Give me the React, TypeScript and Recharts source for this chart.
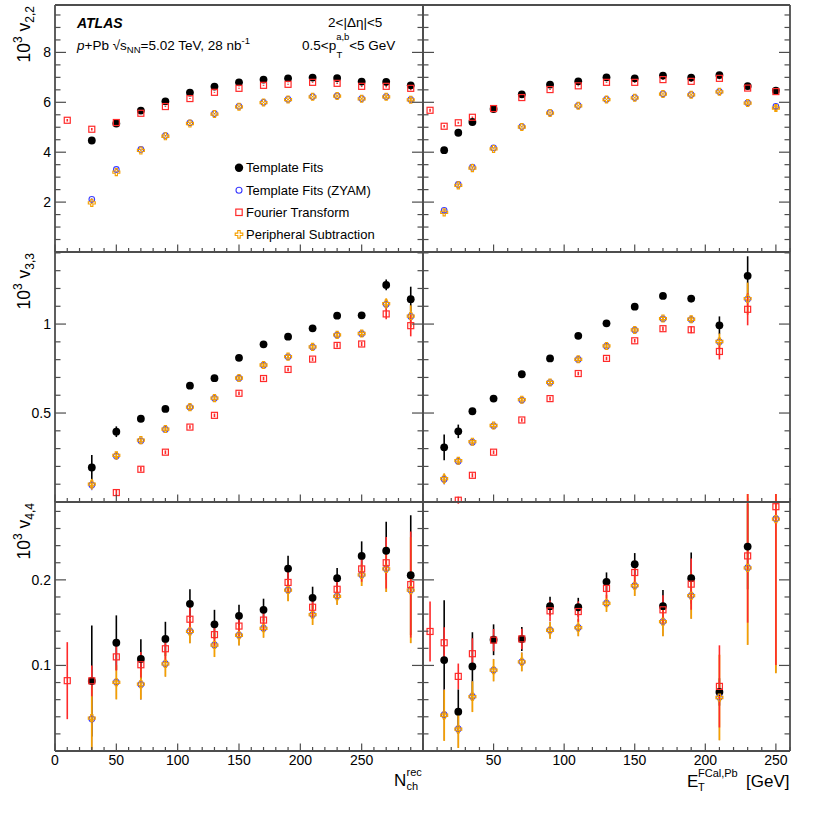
import React from "react";
import { ScatterChart, Scatter, XAxis, YAxis, ErrorBar, Label } from "recharts";

const FONT = "'Liberation Sans', Arial, Helvetica, sans-serif";
const FRAME = "#4d4d4d";
const BLUE = "#3c3cff";
const RED = "#ff2a2a";
const ORANGE = "#f5a000";

// bin centres
const nchX = [10, 30, 50, 70, 90, 110, 130, 150, 170, 190, 210, 230, 250, 270, 290];
const etX = [5, 15, 25, 35, 50, 70, 90, 110, 130, 150, 170, 190, 210, 230, 250];

// ---- v2,2 vs Nch
const tf22N = [null, 4.47, 5.15, 5.67, 6.04, 6.39, 6.63, 6.8, 6.91, 6.96, 6.99, 6.97, 6.83, 6.82, 6.68];
const zy22N = [null, 2.11, 3.31, 4.11, 4.67, 5.18, 5.55, 5.84, 6.0, 6.12, 6.23, 6.26, 6.15, 6.23, 6.11];
const ft22N = [5.28, 4.92, 5.19, 5.56, 5.83, 6.15, 6.4, 6.56, 6.68, 6.72, 6.8, 6.76, 6.64, 6.64, 6.56];
const ps22N = [null, 1.97, 3.2, 4.07, 4.64, 5.15, 5.53, 5.82, 5.99, 6.11, 6.22, 6.25, 6.14, 6.22, 6.1];
const err22N = [0.05, 0.05, 0.03, 0.02, 0.02, 0.02, 0.02, 0.02, 0.02, 0.02, 0.02, 0.03, 0.03, 0.05, 0.08];

// ---- v2,2 vs ET
const tf22E = [null, 4.08, 4.78, 5.21, 5.73, 6.32, 6.71, 6.84, 7.0, 6.96, 7.07, 6.99, 7.09, 6.65, 6.47];
const zy22E = [null, 1.67, 2.71, 3.4, 4.17, 5.03, 5.59, 5.87, 6.12, 6.19, 6.34, 6.31, 6.43, 5.98, 5.84];
const ft22E = [5.68, 5.04, 5.18, 5.4, 5.75, 6.19, 6.51, 6.66, 6.8, 6.8, 6.91, 6.84, 6.96, 6.57, 6.43];
const ps22E = [null, 1.59, 2.67, 3.36, 4.13, 5.01, 5.57, 5.86, 6.11, 6.18, 6.33, 6.3, 6.42, 5.97, 5.77];
const err22E = [0.06, 0.05, 0.04, 0.03, 0.02, 0.02, 0.02, 0.02, 0.02, 0.02, 0.02, 0.03, 0.04, 0.06, 0.12];

// ---- v3,3 vs Nch
const tf33N = [null, 0.194, 0.395, 0.468, 0.523, 0.654, 0.696, 0.81, 0.886, 0.929, 0.976, 1.047, 1.049, 1.22, 1.14];
const tf33Ne = [0, 0.07, 0.03, 0.015, 0.012, 0.01, 0.01, 0.01, 0.01, 0.01, 0.01, 0.012, 0.012, 0.03, 0.07];
const zy33N = [null, 0.096, 0.258, 0.344, 0.408, 0.532, 0.583, 0.696, 0.769, 0.816, 0.871, 0.938, 0.946, 1.111, 1.043];
const ft33N = [null, null, 0.053, 0.184, 0.28, 0.421, 0.487, 0.611, 0.694, 0.745, 0.803, 0.88, 0.888, 1.057, 0.991];
const ps33N = [null, 0.1, 0.262, 0.348, 0.41, 0.533, 0.584, 0.697, 0.77, 0.817, 0.872, 0.939, 0.947, 1.115, 1.045];
const err33N = [0, 0.03, 0.02, 0.012, 0.01, 0.01, 0.01, 0.01, 0.01, 0.01, 0.01, 0.012, 0.012, 0.03, 0.06];

// ---- v3,3 vs ET
const tf33E = [null, 0.307, 0.397, 0.51, 0.581, 0.718, 0.807, 0.934, 1.004, 1.098, 1.158, 1.143, 0.993, 1.271, null];
const tf33Ee = [0, 0.072, 0.038, 0.015, 0.01, 0.01, 0.01, 0.01, 0.01, 0.01, 0.012, 0.02, 0.05, 0.11, 0];
const zy33E = [null, 0.128, 0.229, 0.336, 0.428, 0.573, 0.671, 0.801, 0.876, 0.966, 1.03, 1.025, 0.9, 1.141, null];
const ft33E = [null, null, 0.01, 0.15, 0.28, 0.461, 0.581, 0.722, 0.807, 0.906, 0.974, 0.968, 0.846, 1.083, null];
const ps33E = [null, 0.131, 0.232, 0.339, 0.43, 0.575, 0.672, 0.802, 0.877, 0.967, 1.031, 1.027, 0.902, 1.143, null];
const err33E = [0, 0.03, 0.02, 0.012, 0.01, 0.01, 0.01, 0.01, 0.01, 0.01, 0.012, 0.02, 0.045, 0.09, 0];

// ---- v4,4 vs Nch
const tf44N = [null, 0.0818, 0.1265, 0.1075, 0.131, 0.172, 0.148, 0.158, 0.165, 0.2132, 0.179, 0.202, 0.228, 0.234, 0.2055];
const tf44Ne = [0, 0.065, 0.032, 0.023, 0.02, 0.017, 0.017, 0.013, 0.013, 0.015, 0.013, 0.012, 0.017, 0.034, 0.07];
const zy44N = [null, 0.0375, 0.0806, 0.0778, 0.102, 0.14, 0.124, 0.1355, 0.1436, 0.1883, 0.1595, 0.181, 0.206, 0.213, 0.1883];
const ft44N = [0.0822, 0.082, 0.11, 0.1008, 0.1195, 0.154, 0.136, 0.146, 0.153, 0.197, 0.168, 0.189, 0.2128, 0.22, 0.1945];
const ft44Ne = [0.045, 0.018, 0.016, 0.015, 0.015, 0.015, 0.013, 0.012, 0.012, 0.013, 0.013, 0.012, 0.015, 0.03, 0.062];
const ps44N = [null, 0.0385, 0.0803, 0.0782, 0.1018, 0.1398, 0.1238, 0.1353, 0.1434, 0.1881, 0.1593, 0.1808, 0.2058, 0.2128, 0.188];
const err44N = [0, 0.037, 0.02, 0.018, 0.015, 0.014, 0.014, 0.012, 0.011, 0.013, 0.012, 0.01, 0.013, 0.027, 0.062];

// ---- v4,4 vs ET
const tf44E = [null, 0.1063, 0.046, 0.0988, 0.13, 0.131, 0.1693, 0.168, 0.1977, 0.2183, 0.1693, 0.202, 0.069, 0.2389, null];
const tf44Ee = [0, 0.07, 0.026, 0.04, 0.018, 0.014, 0.011, 0.011, 0.011, 0.013, 0.019, 0.03, 0.016, 0.05, 0];
const zy44E = [null, 0.0425, 0.0258, 0.0638, 0.0946, 0.1043, 0.1413, 0.1443, 0.1728, 0.1934, 0.1513, 0.1817, 0.0627, 0.2143, 0.2715];
const ft44E = [0.1397, 0.1265, 0.0872, 0.1137, 0.1296, 0.131, 0.1638, 0.163, 0.19, 0.2086, 0.165, 0.195, 0.0755, 0.228, 0.2855];
const ft44Ee = [0.035, 0.018, 0.015, 0.018, 0.013, 0.012, 0.012, 0.012, 0.012, 0.014, 0.017, 0.03, 0.048, 0.078, 0.185];
const ps44E = [null, 0.0418, 0.0255, 0.0635, 0.0944, 0.1041, 0.1411, 0.1441, 0.1726, 0.1932, 0.1511, 0.1815, 0.0625, 0.214, 0.271];
const err44E = [0, 0.03, 0.022, 0.018, 0.013, 0.011, 0.01, 0.01, 0.01, 0.012, 0.017, 0.027, 0.05, 0.09, 0.18];

// axis ticks
const nchMajor = [0, 50, 100, 150, 200, 250, 300];
const nchLabels = [0, 50, 100, 150, 200, 250];
const etMajor = [0, 50, 100, 150, 200, 250];
const etLabels = [50, 100, 150, 200, 250];
const v22Major = [0, 2, 4, 6, 8];
const v22Labels = [2, 4, 6, 8];
const v33Major = [0, 0.5, 1];
const v33Labels = [0.5, 1];
const v44Major = [0, 0.1, 0.2];
const v44Labels = [0.1, 0.2];

const legendNames = ["Template Fits", "Template Fits (ZYAM)", "Fourier Transform", "Peripheral Subtraction"];

type Pt = { x: number; y: number; e: number };

function points(xs: number[], ys: (number | null)[], es: number[]): Pt[] {
  const out: Pt[] = [];
  for (let i = 0; i < xs.length; i++) {
    const y = ys[i];
    if (y !== null) out.push({ x: xs[i], y, e: es[i] });
  }
  return out;
}

function steps(max: number, step: number): number[] {
  const out: number[] = [];
  for (let k = 0; k * step <= max + 1e-9; k++) out.push(Math.round(k * step * 1000) / 1000);
  return out;
}

const near = (arr: number[], v: number) => arr.some((m) => Math.abs(m - v) < 1e-6);

function crossPath(cx: number, cy: number, a: number, b: number) {
  return `M${cx - a},${cy - b}H${cx + a}V${cy - a}H${cx + b}V${cy + a}H${cx + a}V${cy + b}H${cx - a}V${cy + a}H${cx - b}V${cy - a}H${cx - a}Z`;
}

const MarkTF = (p: any) => <circle cx={p.cx} cy={p.cy} r={3.9} fill="#000" />;
const MarkZY = (p: any) => <circle cx={p.cx} cy={p.cy} r={2.8} fill="none" stroke={BLUE} strokeWidth={1.1} />;
const MarkFT = (p: any) => (
  <rect x={p.cx - 3} y={p.cy - 3} width={6} height={6} fill="none" stroke={RED} strokeWidth={1.2} />
);
const MarkPS = (p: any) => <path d={crossPath(p.cx, p.cy, 1.1, 3.5)} fill="none" stroke={ORANGE} strokeWidth={1.1} />;

type Side = "bottom" | "top" | "left" | "right";

function tickRenderer(side: Side, majors: number[], labels: number[]) {
  return (props: any) => {
    const { x, y, payload } = props;
    const v = payload.value;
    const major = near(majors, v);
    const xl = major ? 7.5 : 4;
    const yl = major ? 11 : 5.5;
    const lab = near(labels, v);
    let line = null;
    let text = null;
    if (side === "bottom") {
      line = <line x1={x} y1={y} x2={x} y2={y - xl} />;
      if (lab)
        text = (
          <text x={x} y={y + 14} textAnchor="middle" fontSize={14} fontFamily={FONT} fill="#000" stroke="none">
            {v}
          </text>
        );
    } else if (side === "top") {
      line = <line x1={x} y1={y} x2={x} y2={y + xl} />;
    } else if (side === "left") {
      line = <line x1={x} y1={y} x2={x + yl} y2={y} />;
      if (lab)
        text = (
          <text x={x - 4} y={y + 5} textAnchor="end" fontSize={14} fontFamily={FONT} fill="#000" stroke="none">
            {v}
          </text>
        );
    } else {
      line = <line x1={x} y1={y} x2={x - yl} y2={y} />;
    }
    return (
      <g stroke={FRAME} strokeWidth={1.2}>
        {line}
        {text}
      </g>
    );
  };
}

function yTitle(sub: string) {
  return (lp: any) => {
    const vb = lp.viewBox;
    const x0 = 30;
    const y0 = vb.y + 1;
    return (
      <text
        transform={`rotate(-90 ${x0} ${y0})`}
        x={x0}
        y={y0}
        textAnchor="end"
        fontFamily={FONT}
        fontSize={17.5}
        fill="#000"
      >
        10
        <tspan dy={-8} fontSize={12}>
          3
        </tspan>
        <tspan dy={8}> v</tspan>
        <tspan dy={4} fontSize={12}>
          {sub}
        </tspan>
      </text>
    );
  };
}

function nchTitle(lp: any) {
  const vb = lp.viewBox;
  const r = vb.x + vb.width;
  const base = vb.y + 35;
  return (
    <g fontFamily={FONT} fill="#000">
      <text x={r - 29} y={base} fontSize={17}>
        N
      </text>
      <text x={r - 16.5} y={base - 10} fontSize={11}>
        rec
      </text>
      <text x={r - 16.5} y={base + 4} fontSize={11}>
        ch
      </text>
    </g>
  );
}

function etTitle(lp: any) {
  const vb = lp.viewBox;
  const r = vb.x + vb.width;
  const base = vb.y + 36;
  return (
    <g fontFamily={FONT} fill="#000">
      <text x={r - 103} y={base} fontSize={17}>
        E
      </text>
      <text x={r - 92} y={base - 10} fontSize={11}>
        FCal,Pb
      </text>
      <text x={r - 92} y={base + 4} fontSize={11}>
        T
      </text>
      <text x={r - 44} y={base} fontSize={17}>
        [GeV]
      </text>
    </g>
  );
}

type PanelProps = {
  plotLeft: number;
  plotTop: number;
  plotW: number;
  plotH: number;
  firstCol: boolean;
  lastRow: boolean;
  xDomain: [number, number];
  xTicks: number[];
  xMajor: number[];
  xLabels: number[];
  yDomain: [number, number];
  yTicks: number[];
  yMajor: number[];
  yLabels: number[];
  ySub?: string;
  xTitle?: (lp: any) => React.ReactElement;
  tf: Pt[];
  zy: Pt[];
  ft: Pt[];
  ps: Pt[];
};

function Panel(p: PanelProps) {
  const a = p.firstCol ? 55 : 12;
  const b = 12;
  const c = 8;
  const d = p.lastRow ? 62 : 12;
  const axisLine = { stroke: FRAME, strokeWidth: 1.8 };
  return (
    <div style={{ position: "absolute", left: p.plotLeft - a, top: p.plotTop - c }}>
      <ScatterChart width={a + p.plotW + b} height={c + p.plotH + d} margin={{ top: 0, right: 0, bottom: 0, left: 0 }}>
        <XAxis
          xAxisId="b"
          type="number"
          dataKey="x"
          orientation="bottom"
          domain={p.xDomain}
          allowDataOverflow
          ticks={p.xTicks}
          interval={0}
          tickSize={0}
          tickMargin={0}
          tickLine={false}
          axisLine={axisLine}
          tick={tickRenderer("bottom", p.xMajor, p.lastRow ? p.xLabels : [])}
          height={d}
        >
          {p.xTitle ? <Label content={p.xTitle} /> : null}
        </XAxis>
        <XAxis
          xAxisId="t"
          type="number"
          orientation="top"
          domain={p.xDomain}
          allowDataOverflow
          ticks={p.xTicks}
          interval={0}
          tickSize={0}
          tickMargin={0}
          tickLine={false}
          axisLine={axisLine}
          tick={tickRenderer("top", p.xMajor, [])}
          height={c}
        />
        <YAxis
          yAxisId="l"
          type="number"
          dataKey="y"
          orientation="left"
          domain={p.yDomain}
          allowDataOverflow
          ticks={p.yTicks}
          interval={0}
          tickSize={0}
          tickMargin={0}
          tickLine={false}
          axisLine={axisLine}
          tick={tickRenderer("left", p.yMajor, p.firstCol ? p.yLabels : [])}
          width={a}
        >
          {p.firstCol && p.ySub ? <Label content={yTitle(p.ySub)} /> : null}
        </YAxis>
        <YAxis
          yAxisId="r"
          type="number"
          orientation="right"
          domain={p.yDomain}
          allowDataOverflow
          ticks={p.yTicks}
          interval={0}
          tickSize={0}
          tickMargin={0}
          tickLine={false}
          axisLine={axisLine}
          tick={tickRenderer("right", p.yMajor, [])}
          width={b}
        />
        <Scatter name={legendNames[0]} xAxisId="b" yAxisId="l" data={p.tf} shape={MarkTF} isAnimationActive={false}>
          <ErrorBar dataKey="e" direction="y" width={0} stroke="#000" strokeWidth={1.6} isAnimationActive={false} />
        </Scatter>
        <Scatter name={legendNames[1]} xAxisId="b" yAxisId="l" data={p.zy} shape={MarkZY} isAnimationActive={false}>
          <ErrorBar dataKey="e" direction="y" width={0} stroke={BLUE} strokeWidth={1} isAnimationActive={false} />
        </Scatter>
        <Scatter name={legendNames[3]} xAxisId="b" yAxisId="l" data={p.ps} shape={MarkPS} isAnimationActive={false}>
          <ErrorBar dataKey="e" direction="y" width={0} stroke={ORANGE} strokeWidth={1.8} isAnimationActive={false} />
        </Scatter>
        <Scatter name={legendNames[2]} xAxisId="b" yAxisId="l" data={p.ft} shape={MarkFT} isAnimationActive={false}>
          <ErrorBar dataKey="e" direction="y" width={0} stroke={RED} strokeWidth={1.6} isAnimationActive={false} />
        </Scatter>
      </ScatterChart>
    </div>
  );
}

const L = { plotLeft: 55, plotW: 368, firstCol: true, xDomain: [0, 300] as [number, number], xTicks: steps(300, 10), xMajor: nchMajor, xLabels: nchLabels };
const R = { plotLeft: 423, plotW: 367, firstCol: false, xDomain: [0, 260] as [number, number], xTicks: steps(260, 10), xMajor: etMajor, xLabels: etLabels };
const R1 = { plotTop: 5, plotH: 247, lastRow: false, yDomain: [0, 9.9] as [number, number], yTicks: steps(9.5, 0.5), yMajor: v22Major, yLabels: v22Labels, ySub: "2,2" };
const R2 = { plotTop: 252, plotH: 250, lastRow: false, yDomain: [0, 1.405] as [number, number], yTicks: steps(1.4, 0.1), yMajor: v33Major, yLabels: v33Labels, ySub: "3,3" };
const R3 = { plotTop: 502, plotH: 249, lastRow: true, yDomain: [0, 0.291] as [number, number], yTicks: steps(0.28, 0.02), yMajor: v44Major, yLabels: v44Labels, ySub: "4,4" };

function Legend() {
  const x0 = 239;
  const rows = [167.7, 190.3, 212.3, 234.3];
  const marks = [
    <circle key="a" cx={x0} cy={rows[0]} r={4.2} fill="#000" />,
    <circle key="b" cx={x0} cy={rows[1]} r={3} fill="none" stroke={BLUE} strokeWidth={1.1} />,
    <rect key="c" x={x0 - 3.2} y={rows[2] - 3.2} width={6.4} height={6.4} fill="none" stroke={RED} strokeWidth={1.2} />,
    <path key="d" d={crossPath(x0, rows[3], 1.2, 3.8)} fill="none" stroke={ORANGE} strokeWidth={1.1} />,
  ];
  return (
    <g fontFamily={FONT} fontSize={13} fill="#000">
      {marks}
      {legendNames.map((n, i) => (
        <text key={n} x={x0 + 7} y={rows[i] + 4.6}>
          {n}
        </text>
      ))}
    </g>
  );
}

export default function App() {
  return (
    <div style={{ position: "absolute", left: 0, top: 0, width: 814, height: 814, background: "#fff", fontFamily: FONT }}>
      <Panel {...L} {...R1} tf={points(nchX, tf22N, err22N)} zy={points(nchX, zy22N, err22N)} ft={points(nchX, ft22N, err22N)} ps={points(nchX, ps22N, err22N)} />
      <Panel {...R} {...R1} tf={points(etX, tf22E, err22E)} zy={points(etX, zy22E, err22E)} ft={points(etX, ft22E, err22E)} ps={points(etX, ps22E, err22E)} />
      <Panel {...L} {...R2} tf={points(nchX, tf33N, tf33Ne)} zy={points(nchX, zy33N, err33N)} ft={points(nchX, ft33N, err33N)} ps={points(nchX, ps33N, err33N)} />
      <Panel {...R} {...R2} tf={points(etX, tf33E, tf33Ee)} zy={points(etX, zy33E, err33E)} ft={points(etX, ft33E, err33E)} ps={points(etX, ps33E, err33E)} />
      <Panel {...L} {...R3} xTitle={nchTitle} tf={points(nchX, tf44N, tf44Ne)} zy={points(nchX, zy44N, err44N)} ft={points(nchX, ft44N, ft44Ne)} ps={points(nchX, ps44N, err44N)} />
      <Panel {...R} {...R3} xTitle={etTitle} tf={points(etX, tf44E, tf44Ee)} zy={points(etX, zy44E, err44E)} ft={points(etX, ft44E, ft44Ee)} ps={points(etX, ps44E, err44E)} />
      <svg width={814} height={814} style={{ position: "absolute", left: 0, top: 0, pointerEvents: "none" }}>
        <g fontFamily={FONT} fill="#000">
          <text x={77} y={27.5} fontSize={14} fontWeight="bold" fontStyle="italic">
            ATLAS
          </text>
          <text x={77} y={50} fontSize={13.5}>
            <tspan fontStyle="italic">p</tspan>+Pb √s
            <tspan dy={3} fontSize={9.5}>
              NN
            </tspan>
            <tspan dy={-3}>=5.02 TeV, 28 nb</tspan>
            <tspan dy={-6} fontSize={9.5}>
              -1
            </tspan>
          </text>
          <text x={328} y={27} fontSize={13.5}>
            2&lt;|Δη|&lt;5
          </text>
          <text x={302} y={50} fontSize={13.5}>
            0.5&lt;p
            <tspan dy={-10} fontSize={9.5}>
              a,b
            </tspan>
            <tspan dx={-13} dy={18} fontSize={9.5}>
              T
            </tspan>
            <tspan dx={7} dy={-8}>
              &lt;5 GeV
            </tspan>
          </text>
          <Legend />
        </g>
      </svg>
    </div>
  );
}
